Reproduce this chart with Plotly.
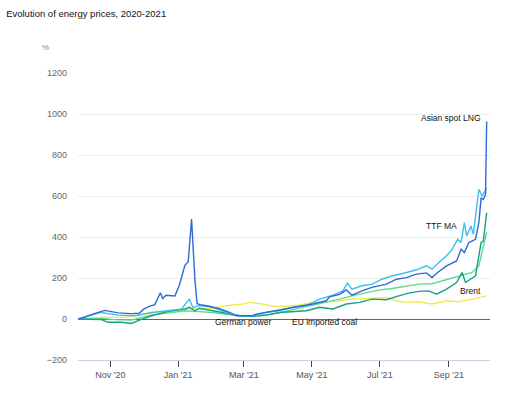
import plotly.graph_objects as go

# ---------------- data (% change) ----------------
lng_dates = ["2020-10-03","2020-10-09","2020-10-17","2020-10-27","2020-11-08","2020-11-20","2020-11-27",
             "2020-12-01","2020-12-06","2020-12-11","2020-12-16","2020-12-18","2020-12-21","2020-12-29",
             "2021-01-02","2021-01-07","2021-01-10","2021-01-13","2021-01-16","2021-01-18","2021-01-22",
             "2021-01-29","2021-02-07","2021-02-16","2021-02-22","2021-03-09","2021-03-12","2021-03-27",
             "2021-04-08","2021-04-20","2021-05-02","2021-05-14","2021-05-17","2021-05-26","2021-06-01",
             "2021-06-06","2021-06-15","2021-06-24","2021-07-07","2021-07-16","2021-07-25","2021-08-03",
             "2021-08-12","2021-08-17","2021-08-22","2021-08-30","2021-09-08","2021-09-12","2021-09-15",
             "2021-09-19","2021-09-25","2021-09-28","2021-09-30","2021-10-02","2021-10-04","2021-10-05"]
lng_vals = [0, 8, 25, 42, 30, 26, 28,
            48, 62, 70, 128, 100, 116, 112,
            165, 262, 280, 487, 190, 75, 68,
            62, 50, 32, 16, 16, 24, 40,
            52, 62, 73, 89, 108, 120, 142,
            116, 137, 154, 170, 194, 202, 219,
            225, 202, 227, 259, 283, 340, 324,
            373, 389, 470, 591, 583, 607, 963]

ttf_dates = ["2020-10-03","2020-10-12","2020-10-24","2020-11-08","2020-11-23","2020-12-08","2020-12-22",
             "2021-01-04","2021-01-11","2021-01-14","2021-01-20","2021-02-01","2021-02-13","2021-02-25",
             "2021-03-09","2021-03-21","2021-04-02","2021-04-14","2021-04-26","2021-05-08","2021-05-20",
             "2021-05-29","2021-06-02","2021-06-06","2021-06-15","2021-06-24","2021-07-03","2021-07-12",
             "2021-07-25","2021-08-03","2021-08-12","2021-08-17","2021-08-23","2021-08-30","2021-09-04",
             "2021-09-09","2021-09-12","2021-09-15","2021-09-17","2021-09-21","2021-09-23","2021-09-28",
             "2021-10-01","2021-10-04","2021-10-05"]
ttf_vals = [0, 16, 32, 19, 16, 32, 40,
            49, 97, 57, 65, 57, 32, 16,
            16, 32, 40, 57, 65, 97, 116,
            137, 175, 146, 162, 170, 194, 210,
            227, 240, 259, 243, 275, 308, 340,
            389, 373, 470, 405, 453, 413, 632,
            599, 632, 640]

power_dates = ["2020-10-03","2020-10-17","2020-10-24","2020-10-30","2020-11-11","2020-11-20","2020-11-26",
               "2020-12-08","2020-12-22","2021-01-07","2021-01-11","2021-01-16","2021-01-20","2021-02-01",
               "2021-02-13","2021-02-25","2021-03-09","2021-03-21","2021-04-02","2021-04-14","2021-04-26",
               "2021-05-08","2021-05-20","2021-06-01","2021-06-13","2021-06-24","2021-07-07","2021-07-18",
               "2021-07-27","2021-08-05","2021-08-14","2021-08-21","2021-08-30","2021-09-08","2021-09-13",
               "2021-09-16","2021-09-21","2021-09-25","2021-09-30","2021-10-02","2021-10-05"]
power_vals = [0, -2, -3, -16, -16, -22, -8,
              16, 36, 49, 57, 40, 52, 40,
              29, 16, 13, 19, 32, 36, 40,
              57, 49, 73, 81, 97, 94, 113,
              126, 135, 137, 121, 146, 178, 227,
              178, 194, 210, 373, 380, 518]

coal_dates = ["2020-10-03","2020-10-24","2020-11-05","2020-11-20","2020-12-08","2020-12-22","2021-01-07",
              "2021-01-20","2021-02-01","2021-02-19","2021-03-09","2021-03-27","2021-04-14","2021-04-29",
              "2021-05-14","2021-05-26","2021-06-06","2021-06-19","2021-07-01","2021-07-12","2021-07-25",
              "2021-08-05","2021-08-17","2021-08-30","2021-09-10","2021-09-22","2021-09-28","2021-10-01",
              "2021-10-05"]
coal_vals = [0, 3, -3, -5, 19, 29, 40,
             36, 32, 19, 16, 24, 45, 65,
             81, 97, 113, 130, 142, 149, 162,
             170, 172, 191, 210, 227, 259, 324,
             424]

brent_dates = ["2020-10-03","2020-10-24","2020-11-14","2020-11-29","2020-12-13","2020-12-29","2021-01-13",
               "2021-01-29","2021-02-13","2021-02-28","2021-03-06","2021-03-18","2021-03-27","2021-04-08",
               "2021-04-20","2021-05-02","2021-05-14","2021-05-26","2021-06-06","2021-06-22","2021-07-07",
               "2021-07-16","2021-07-25","2021-08-05","2021-08-17","2021-08-30","2021-09-10","2021-09-22",
               "2021-10-05"]
brent_vals = [0, 8, 8, 19, 32, 40, 52,
              49, 65, 73, 81, 73, 62, 62,
              68, 81, 84, 89, 97, 100, 105,
              89, 81, 84, 73, 89, 84, 97,
              113]

tick_dates = ["2020-11-01","2021-01-01","2021-03-01","2021-05-01","2021-07-01","2021-09-01"]
tick_labels = ["Nov '20","Jan '21","Mar '21","May '21","Jul '21","Sep '21"]
y_ticks = [-200, 0, 200, 400, 600, 800, 1000, 1200]

series = [
    ("Brent", brent_dates, brent_vals, "#f3ea4f"),
    ("EU imported coal", coal_dates, coal_vals, "#5cdc8c"),
    ("German power", power_dates, power_vals, "#17a08a"),
    ("TTF MA", ttf_dates, ttf_vals, "#3dc0f2"),
    ("Asian spot LNG", lng_dates, lng_vals, "#2f6ad4"),
]

FONT = "Liberation Sans, Arial, sans-serif"

fig = go.Figure()
for name, d, v, c in series:
    fig.add_trace(go.Scatter(x=d, y=v, mode="lines", name=name,
                             line=dict(color=c, width=1.4), showlegend=False))

labels = [
    ("Asian spot LNG", "2021-10-02", 980, "right"),
    ("TTF MA", "2021-09-10", 456, "right"),
    ("Brent", "2021-10-02", 136, "right"),
    ("German power", "2021-02-28", -16, "center"),
    ("EU imported coal", "2021-05-12", -16, "center"),
]
for t, x, y, anc in labels:
    fig.add_annotation(x=x, y=y, text=t, showarrow=False, xanchor=anc, yanchor="middle",
                       font=dict(family=FONT, size=8.5, color="#111"))

fig.add_annotation(xref="paper", yref="paper", x=-0.08, y=1.09, text="%", showarrow=False,
                   xanchor="center", yanchor="middle", font=dict(family=FONT, size=8, color="#888"))

fig.update_layout(
    width=512, height=398,
    margin=dict(l=78, r=22, t=73, b=38),
    paper_bgcolor="white", plot_bgcolor="white",
    title=dict(text="Evolution of energy prices, 2020-2021", x=0.012, xanchor="left",
               y=0.965, yanchor="middle", font=dict(family=FONT, size=9.5, color="#111")),
    xaxis=dict(range=["2020-10-03", "2021-10-08"], tickvals=tick_dates, ticktext=tick_labels,
               showgrid=False, ticks="outside", ticklen=6, tickcolor="#444", tickwidth=1,
               showline=True, linecolor="#c9d2e3", linewidth=1,
               tickfont=dict(family=FONT, size=9, color="#555"), zeroline=False),
    yaxis=dict(range=[-200, 1200], tickvals=y_ticks, showgrid=True, gridcolor="#ececec",
               gridwidth=1, zeroline=True, zerolinecolor="#666", zerolinewidth=1,
               tickfont=dict(family=FONT, size=9, color="#666"), ticks="", ticklabelstandoff=10,
               showline=False),
)

fig.write_html("out.html", config={"displayModeBar": False},
               post_script="document.body.style.margin='0';")
